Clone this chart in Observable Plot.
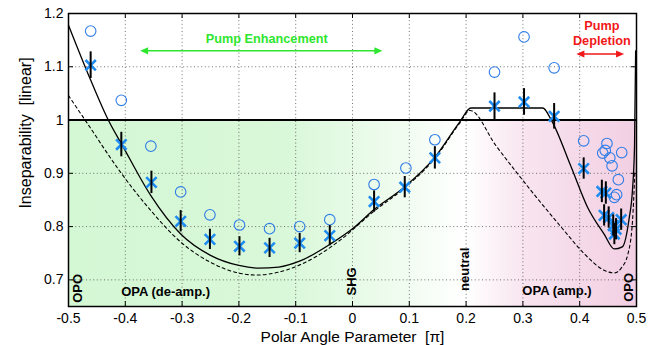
<!DOCTYPE html>
<html><head><meta charset="utf-8">
<script src="https://cdn.jsdelivr.net/npm/d3@7"></script>
<script src="https://cdn.jsdelivr.net/npm/@observablehq/plot@0.6"></script>
<style>body{margin:0;background:#fff} #chart{width:667px;height:345px}</style>
</head><body><div id="chart"></div>
<script>
// ---- data ----
const xTicks = [-0.5, -0.4, -0.3, -0.2, -0.1, 0, 0.1, 0.2, 0.3, 0.4, 0.5];
const yTicks = [0.7, 0.8, 0.9, 1, 1.1, 1.2];

// open circles
const circleX = [-0.461, -0.407, -0.355, -0.3025, -0.251, -0.199, -0.146, -0.093, -0.040, 0.038, 0.094, 0.145, 0.250, 0.302, 0.355, 0.407, 0.448, 0.4405, 0.445, 0.453, 0.474, 0.457, 0.468, 0.465, 0.461];
const circleY = [1.167, 1.037, 0.951, 0.865, 0.822, 0.803, 0.796, 0.800, 0.813, 0.879, 0.910, 0.963, 1.090, 1.156, 1.098, 0.961, 0.956, 0.938, 0.943, 0.929, 0.939, 0.914, 0.888, 0.860, 0.855];

// crosses with error bars
const crossX = [-0.461, -0.407, -0.354, -0.3025, -0.251, -0.199, -0.146, -0.093, -0.040, 0.038, 0.092, 0.145, 0.250, 0.302, 0.355, 0.407, 0.439, 0.446, 0.443, 0.451, 0.459, 0.473, 0.464, 0.461];
const crossY = [1.103, 0.954, 0.883, 0.810, 0.776, 0.763, 0.760, 0.769, 0.783, 0.847, 0.874, 0.929, 1.026, 1.034, 1.007, 0.909, 0.866, 0.863, 0.821, 0.817, 0.802, 0.813, 0.795, 0.786];
const crossErr = [0.025, 0.023, 0.021, 0.020, 0.019, 0.018, 0.018, 0.018, 0.019, 0.020, 0.020, 0.021, 0.025, 0.025, 0.024, 0.020, 0.021, 0.021, 0.020, 0.020, 0.020, 0.020, 0.020, 0.020];

// theory curves
const solidX = [-0.5, -0.461, -0.43, -0.405, -0.355, -0.3025, -0.25, -0.2, -0.165, -0.13, -0.091, -0.038, 0.0, 0.038, 0.091, 0.145, 0.188, 0.2085, 0.335, 0.35, 0.385, 0.414, 0.443, 0.461, 0.475, 0.487, 0.493, 0.4965, 0.4985];
const solidY = [1.178, 1.075, 1.0, 0.952, 0.858, 0.786, 0.746, 0.727, 0.722, 0.724, 0.736, 0.768, 0.796, 0.832, 0.874, 0.930, 0.995, 1.0226, 1.0226, 1.0, 0.912, 0.836, 0.786, 0.758, 0.762, 0.815, 0.87, 0.95, 1.13];
const dashedX = [-0.5, -0.467, -0.407, -0.355, -0.3025, -0.25, -0.197, -0.17, -0.121, -0.062, -0.02, 0.038, 0.091, 0.145, 0.188, 0.207, 0.2525, 0.314, 0.373, 0.408, 0.443, 0.461, 0.473, 0.485, 0.493, 0.497];
const dashedY = [1.046, 0.994, 0.900, 0.830, 0.771, 0.733, 0.712, 0.709, 0.717, 0.745, 0.776, 0.829, 0.872, 0.928, 0.993, 1.018, 0.952, 0.868, 0.792, 0.749, 0.718, 0.713, 0.722, 0.749, 0.811, 0.9];

// shaded regions (below the y = 1 line)
const regionX1 = [-0.5, 0.2];
const regionX2 = [0.2, 0.5];
const regionY1 = [0.65, 0.65];
const regionY2 = [1.0, 1.0];
const regionFill = ["url(#gradGreen)", "url(#gradPink)"];

// region labels at the bottom
const regionText = ["OPO", "OPA (de-amp.)", "SHG", "neutral", "OPA (amp.)", "OPO"];
const regionTextX = [-0.484, -0.329, -0.001, 0.198, 0.36, 0.486];
const regionTextY = [0.684, 0.677, 0.697, 0.72, 0.679, 0.686];
const regionTextRot = [-90, 0, -90, -90, 0, -90];

// pump annotations
const pumpText = ["Pump Enhancement", "Pump", "Depletion"];
const pumpTextX = [-0.151, 0.439, 0.439];
const pumpTextY = [1.152, 1.176, 1.148];
const pumpTextColor = ["#2ee62e", "#f01818", "#f01818"];
const arrowX1 = [-0.373, 0.395];
const arrowX2 = [0.0535, 0.479];
const arrowY = [1.129, 1.123];
const arrowColor = ["#2ee62e", "#f01818"];

// ---- tables built from arrays ----
const circles = circleX.map((x, i) => ({x, y: circleY[i]}));
const crosses = crossX.map((x, i) => ({x, y: crossY[i], e: crossErr[i]}));
const solid = solidX.map((x, i) => ({x, y: solidY[i]}));
const dashed = dashedX.map((x, i) => ({x, y: dashedY[i]}));
const regions = regionX1.map((x1, i) => ({x1, x2: regionX2[i], y1: regionY1[i], y2: regionY2[i], fill: regionFill[i]}));
const regionLabels = regionText.map((t, i) => ({t, x: regionTextX[i], y: regionTextY[i], r: regionTextRot[i]}));
const pumpLabels = pumpText.map((t, i) => ({t, x: pumpTextX[i], y: pumpTextY[i], c: pumpTextColor[i]}));
const arrows = arrowX1.map((x1, i) => ({x1, x2: arrowX2[i], y: arrowY[i], c: arrowColor[i]}));

const plotH = 345 - 13 - 39;
const plotW = 667 - 68 - 31;

function gradientDefs() {
  const defs = d3.create("svg:defs");
  const g = defs.append("linearGradient").attr("id", "gradGreen").attr("x1", "0").attr("x2", "1").attr("y1", "0").attr("y2", "0");
  g.append("stop").attr("offset", "0").attr("stop-color", "#d4f7d4");
  g.append("stop").attr("offset", "0.55").attr("stop-color", "#d9f8d9");
  g.append("stop").attr("offset", "0.85").attr("stop-color", "#f1fcf1");
  g.append("stop").attr("offset", "1").attr("stop-color", "#ffffff");
  const p = defs.append("linearGradient").attr("id", "gradPink").attr("x1", "0").attr("x2", "1").attr("y1", "0").attr("y2", "0");
  p.append("stop").attr("offset", "0").attr("stop-color", "#ffffff");
  p.append("stop").attr("offset", "0.35").attr("stop-color", "#f8e4ef");
  p.append("stop").attr("offset", "1").attr("stop-color", "#f2cfe3");
  return defs.node();
}

function arrowMark(index, scales) {
  const g = d3.create("svg:g");
  const L = 8, W = 3.6;
  for (const a of arrows) {
    const X1 = scales.x(a.x1), X2 = scales.x(a.x2), Y = scales.y(a.y);
    g.append("line").attr("x1", X1 + L - 1).attr("x2", X2 - L + 1).attr("y1", Y).attr("y2", Y)
      .attr("stroke", a.c).attr("stroke-width", 1.6);
    g.append("path").attr("d", `M${X1},${Y}L${X1 + L},${Y - W}L${X1 + L},${Y + W}Z`).attr("fill", a.c);
    g.append("path").attr("d", `M${X2},${Y}L${X2 - L},${Y - W}L${X2 - L},${Y + W}Z`).attr("fill", a.c);
  }
  return g.node();
}

const chart = Plot.plot({
  width: 667,
  height: 345,
  marginLeft: 68,
  marginRight: 31,
  marginTop: 13,
  marginBottom: 39,
  style: {fontFamily: "'Liberation Sans', Arial, Helvetica, sans-serif", fontSize: "14px", background: "white", color: "black"},
  x: {domain: [-0.5, 0.5], ticks: xTicks, tickSize: 0, tickPadding: 6.5, tickFormat: d => String(d), label: null},
  y: {domain: [0.65, 1.2], ticks: yTicks, tickSize: 0, tickPadding: 5, tickFormat: d => String(d), label: null},
  marks: [
    gradientDefs,
    Plot.rect(regions, {x1: "x1", x2: "x2", y1: "y1", y2: "y2", fill: d => d.fill}),
    Plot.ruleX(xTicks.slice(1, -1), {stroke: "#444", strokeOpacity: 0.75, strokeDasharray: "1,2.6"}),
    Plot.ruleY([0.7, 0.8, 0.9, 1.1], {stroke: "#444", strokeOpacity: 0.75, strokeDasharray: "1,2.6"}),
    Plot.tickX(xTicks, {x: d => d, insetTop: plotH - 5, stroke: "black"}),
    Plot.tickX(xTicks, {x: d => d, insetBottom: plotH - 5, stroke: "black"}),
    Plot.tickY(yTicks, {y: d => d, insetRight: plotW - 5, stroke: "black"}),
    Plot.tickY(yTicks, {y: d => d, insetLeft: plotW - 5, stroke: "black"}),
    Plot.ruleY([1], {stroke: "black", strokeWidth: 2}),
    Plot.line(dashed, {x: "x", y: "y", stroke: "black", strokeWidth: 1.1, strokeDasharray: "3,3", curve: "monotone-x"}),
    Plot.line(solid, {x: "x", y: "y", stroke: "black", strokeWidth: 1.3, curve: "monotone-x"}),
    Plot.dot(circles, {x: "x", y: "y", r: 5.3, stroke: "#2f7de6", strokeWidth: 1.1, fill: "none"}),
    Plot.dot(crosses, {x: "x", y: "y", symbol: "times", r: 4.8, stroke: "#1e8cf0", strokeWidth: 2.6}),
    Plot.ruleX(crosses, {x: "x", y1: d => d.y - d.e, y2: d => d.y + d.e, stroke: "black", strokeWidth: 2}),
    Plot.text(regionLabels, {x: "x", y: "y", text: "t", rotate: "r", fontWeight: "bold", fontSize: 13, fill: "black"}),
    Plot.text(pumpLabels, {x: "x", y: "y", text: "t", fill: "c", fontWeight: "bold", fontSize: 12.7}),
    arrowMark,
    Plot.text(["Inseparability\u00a0 [linear]"], {frameAnchor: "left", textAnchor: "middle", lineAnchor: "middle", dx: -43, dy: -27, rotate: -90, fontSize: 16, fill: "black"}),
    Plot.text(["Polar Angle Parameter\u00a0 [\u03c0]"], {frameAnchor: "bottom", textAnchor: "middle", lineAnchor: "middle", dy: 31, fontSize: 15.5, fill: "black"}),
    Plot.frame({stroke: "black", strokeWidth: 1.5})
  ]
});
document.getElementById("chart").appendChild(chart);
</script>
</body></html>
